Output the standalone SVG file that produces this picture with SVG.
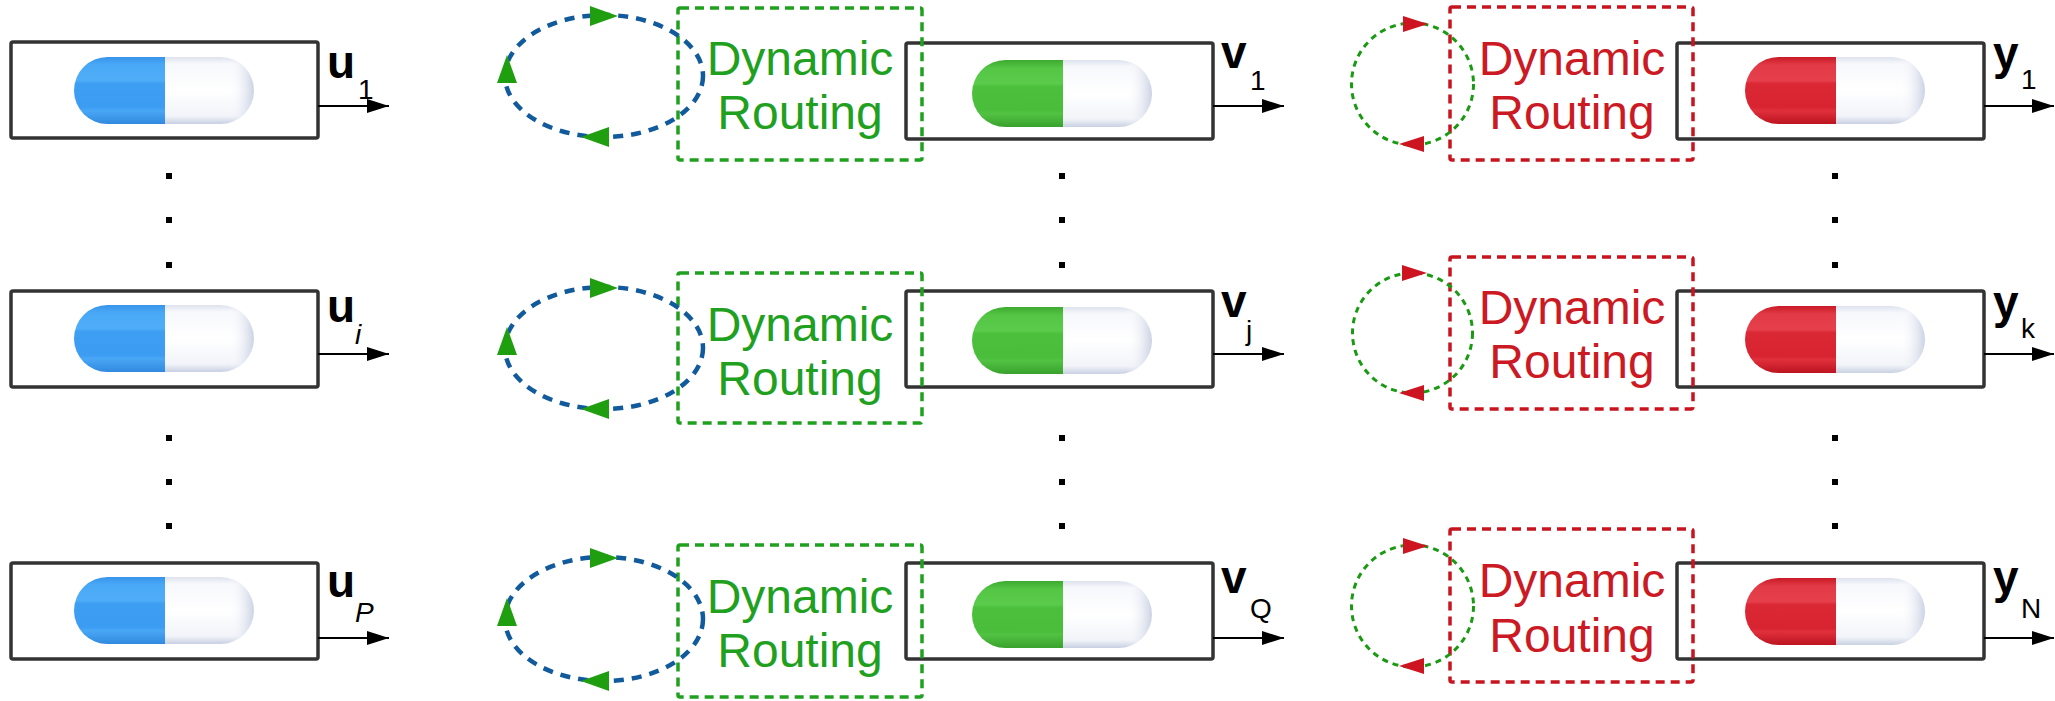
<svg xmlns="http://www.w3.org/2000/svg" xmlns:xlink="http://www.w3.org/1999/xlink" width="2055" height="701" viewBox="0 0 2055 701">
  <defs>
    <style>
      .box { fill: #ffffff; stroke: #333333; stroke-width: 3.5; }
      .dot { fill: #000000; }
      .var { font-family: "Liberation Sans", Arial, sans-serif; font-weight: bold; font-size: 46px; fill: #000000; }
      .sub { font-family: "Liberation Sans", Arial, sans-serif; font-size: 28px; fill: #000000; }
      .subi { font-family: "Liberation Sans", Arial, sans-serif; font-size: 28px; font-style: italic; fill: #000000; }
      .out { stroke: #000000; stroke-width: 1.8; fill: none; marker-end: url(#arrowOut); }
      .rtG { fill: none; stroke: #1fa01f; stroke-width: 3.5; stroke-dasharray: 9 6; }
      .rtR { fill: none; stroke: #c8141f; stroke-width: 3.5; stroke-dasharray: 9 6; }
      .lblG { font-family: "Liberation Sans", Arial, sans-serif; font-size: 48px; fill: #1fa01f; text-anchor: middle; }
      .lblR { font-family: "Liberation Sans", Arial, sans-serif; font-size: 48px; fill: #cc1a24; text-anchor: middle; }
      .loopB { fill: none; stroke: #115a9c; stroke-width: 4.5; stroke-dasharray: 10 8; }
      .loopG { fill: none; stroke: #1a9a12; stroke-width: 3; stroke-dasharray: 6 5; }
      .headG { fill: #1f9f0f; }
      .headR { fill: #cc1520; }
    </style>
    <marker id="arrowOut" markerUnits="userSpaceOnUse" markerWidth="24" markerHeight="16" refX="22" refY="7" orient="auto">
      <path d="M0,0 L22,7 L0,14 z" fill="#000000"/>
    </marker>

    <!-- capsule shading -->
    <linearGradient id="gBlue" x1="0" y1="0" x2="0" y2="1">
      <stop offset="0" stop-color="#3894ea"/>
      <stop offset="0.12" stop-color="#4aa9f6"/>
      <stop offset="0.35" stop-color="#4fadf8"/>
      <stop offset="0.4" stop-color="#3d9ef2"/>
      <stop offset="0.75" stop-color="#3b9cf2"/>
      <stop offset="0.8" stop-color="#4aa7f5"/>
      <stop offset="1" stop-color="#3089de"/>
    </linearGradient>
    <linearGradient id="gGreen" x1="0" y1="0" x2="0" y2="1">
      <stop offset="0" stop-color="#3caa2e"/>
      <stop offset="0.12" stop-color="#55c546"/>
      <stop offset="0.35" stop-color="#5acb4b"/>
      <stop offset="0.4" stop-color="#4cc03d"/>
      <stop offset="0.75" stop-color="#4abe3b"/>
      <stop offset="0.8" stop-color="#52c243"/>
      <stop offset="1" stop-color="#38a22c"/>
    </linearGradient>
    <linearGradient id="gRed" x1="0" y1="0" x2="0" y2="1">
      <stop offset="0" stop-color="#c81a26"/>
      <stop offset="0.12" stop-color="#e23a46"/>
      <stop offset="0.35" stop-color="#e5404c"/>
      <stop offset="0.4" stop-color="#da2834"/>
      <stop offset="0.75" stop-color="#d82430"/>
      <stop offset="0.8" stop-color="#e0303c"/>
      <stop offset="1" stop-color="#bc1420"/>
    </linearGradient>
    <linearGradient id="gWhite" x1="0" y1="0" x2="0" y2="1">
      <stop offset="0" stop-color="#dde2ee"/>
      <stop offset="0.1" stop-color="#f7f8fc"/>
      <stop offset="0.5" stop-color="#ffffff"/>
      <stop offset="0.88" stop-color="#f2f4f9"/>
      <stop offset="1" stop-color="#c8d0e2"/>
    </linearGradient>
    <linearGradient id="gWhiteEnd" x1="0" y1="0" x2="1" y2="0">
      <stop offset="0.72" stop-color="#ffffff" stop-opacity="0"/>
      <stop offset="1" stop-color="#b9c3da" stop-opacity="0.75"/>
    </linearGradient>

    <!-- capsule: 180 x 67, colour half on the left -->
    <g id="capBlue">
      <path d="M91,0 H33.5 A33.5,33.5 0 0 0 33.5,67 H91 Z" fill="url(#gBlue)"/>
      <path d="M91,0 H146.5 A33.5,33.5 0 0 1 146.5,67 H91 Z" fill="url(#gWhite)"/>
      <path d="M91,0 H146.5 A33.5,33.5 0 0 1 146.5,67 H91 Z" fill="url(#gWhiteEnd)"/>
    </g>
    <g id="capGreen">
      <path d="M91,0 H33.5 A33.5,33.5 0 0 0 33.5,67 H91 Z" fill="url(#gGreen)"/>
      <path d="M91,0 H146.5 A33.5,33.5 0 0 1 146.5,67 H91 Z" fill="url(#gWhite)"/>
      <path d="M91,0 H146.5 A33.5,33.5 0 0 1 146.5,67 H91 Z" fill="url(#gWhiteEnd)"/>
    </g>
    <g id="capRed">
      <path d="M91,0 H33.5 A33.5,33.5 0 0 0 33.5,67 H91 Z" fill="url(#gRed)"/>
      <path d="M91,0 H146.5 A33.5,33.5 0 0 1 146.5,67 H91 Z" fill="url(#gWhite)"/>
      <path d="M91,0 H146.5 A33.5,33.5 0 0 1 146.5,67 H91 Z" fill="url(#gWhiteEnd)"/>
    </g>

    <!-- loop arrowheads, tip at the origin, pointing along +x -->
    <path id="headBig" d="M0,0 L-28,-10 L-28,10 z"/>
    <path id="headSmall" d="M0,0 L-25,-8 L-25,8 z"/>
  </defs>

  <rect width="2055" height="701" fill="#ffffff"/>

  <!-- input capsules u -->
  <g id="u1">
    <rect class="box" x="11" y="42" width="307" height="96" rx="2"/>
    <use href="#capBlue" x="74" y="57"/>
    <text class="var" x="327" y="78">u</text><text class="sub" x="358" y="99">1</text>
  </g>
  <g id="ui">
    <rect class="box" x="11" y="291" width="307" height="96" rx="2"/>
    <use href="#capBlue" x="74" y="305"/>
    <text class="var" x="327" y="322">u</text><text class="subi" x="355" y="344">i</text>
  </g>
  <g id="uP">
    <rect class="box" x="11" y="563" width="307" height="96" rx="2"/>
    <use href="#capBlue" x="74" y="577"/>
    <text class="var" x="327" y="597">u</text><text class="subi" x="355" y="622">P</text>
  </g>

  <!-- primary capsules v -->
  <g id="v1">
    <rect class="box" x="906" y="43" width="307" height="96" rx="2"/>
    <use href="#capGreen" x="972" y="60"/>
    <text class="var" x="1221" y="68">v</text><text class="sub" x="1250" y="90">1</text>
  </g>
  <g id="vj">
    <rect class="box" x="906" y="291" width="307" height="96" rx="2"/>
    <use href="#capGreen" x="972" y="307"/>
    <text class="var" x="1221" y="317">v</text><text class="sub" x="1246" y="340">j</text>
  </g>
  <g id="vQ">
    <rect class="box" x="906" y="563" width="307" height="96" rx="2"/>
    <use href="#capGreen" x="972" y="581"/>
    <text class="var" x="1221" y="593">v</text><text class="sub" x="1250" y="618">Q</text>
  </g>

  <!-- output capsules y -->
  <g id="y1">
    <rect class="box" x="1677" y="43" width="307" height="96" rx="2"/>
    <use href="#capRed" x="1745" y="57"/>
    <text class="var" x="1993" y="69">y</text><text class="sub" x="2021" y="89">1</text>
  </g>
  <g id="yk">
    <rect class="box" x="1677" y="291" width="307" height="96" rx="2"/>
    <use href="#capRed" x="1745" y="306"/>
    <text class="var" x="1993" y="318">y</text><text class="sub" x="2021" y="338">k</text>
  </g>
  <g id="yN">
    <rect class="box" x="1677" y="563" width="307" height="96" rx="2"/>
    <use href="#capRed" x="1745" y="578"/>
    <text class="var" x="1993" y="593">y</text><text class="sub" x="2021" y="618">N</text>
  </g>

  <!-- vertical ellipsis dots between rows -->
  <g id="ellipsis">
    <rect class="dot" x="166" y="173" width="6" height="6"/>
    <rect class="dot" x="166" y="217" width="6" height="6"/>
    <rect class="dot" x="166" y="262" width="6" height="6"/>
    <rect class="dot" x="166" y="435" width="6" height="6"/>
    <rect class="dot" x="166" y="479" width="6" height="6"/>
    <rect class="dot" x="166" y="523" width="6" height="6"/>
    <rect class="dot" x="1059" y="173" width="6" height="6"/>
    <rect class="dot" x="1059" y="217" width="6" height="6"/>
    <rect class="dot" x="1059" y="262" width="6" height="6"/>
    <rect class="dot" x="1059" y="435" width="6" height="6"/>
    <rect class="dot" x="1059" y="479" width="6" height="6"/>
    <rect class="dot" x="1059" y="523" width="6" height="6"/>
    <rect class="dot" x="1832" y="173" width="6" height="6"/>
    <rect class="dot" x="1832" y="217" width="6" height="6"/>
    <rect class="dot" x="1832" y="262" width="6" height="6"/>
    <rect class="dot" x="1832" y="435" width="6" height="6"/>
    <rect class="dot" x="1832" y="479" width="6" height="6"/>
    <rect class="dot" x="1832" y="523" width="6" height="6"/>
  </g>

  <!-- routing stages between layers -->
  <g id="routing1a">
    <rect class="rtG" x="678" y="8" width="244" height="152" rx="2"/>
    <text class="lblG" x="800" y="75">Dynamic</text>
    <text class="lblG" x="800" y="129">Routing</text>
  </g>
  <g id="routing1b">
    <rect class="rtG" x="678" y="273" width="244" height="150" rx="2"/>
    <text class="lblG" x="800" y="341">Dynamic</text>
    <text class="lblG" x="800" y="395">Routing</text>
  </g>
  <g id="routing1c">
    <rect class="rtG" x="678" y="545" width="244" height="152" rx="2"/>
    <text class="lblG" x="800" y="613">Dynamic</text>
    <text class="lblG" x="800" y="667">Routing</text>
  </g>
  <g id="routing2a">
    <rect class="rtR" x="1450" y="7" width="243" height="153" rx="2"/>
    <text class="lblR" x="1572" y="75">Dynamic</text>
    <text class="lblR" x="1572" y="129">Routing</text>
  </g>
  <g id="routing2b">
    <rect class="rtR" x="1450" y="257" width="243" height="152" rx="2"/>
    <text class="lblR" x="1572" y="324">Dynamic</text>
    <text class="lblR" x="1572" y="378">Routing</text>
  </g>
  <g id="routing2c">
    <rect class="rtR" x="1450" y="529" width="243" height="153" rx="2"/>
    <text class="lblR" x="1572" y="597">Dynamic</text>
    <text class="lblR" x="1572" y="652">Routing</text>
  </g>

  <!-- connectors: capsule outputs and routing iterations -->
  <g id="connectors">
    <line class="out" x1="318" y1="106" x2="389" y2="106"/>
    <line class="out" x1="318" y1="354" x2="389" y2="354"/>
    <line class="out" x1="318" y1="638" x2="389" y2="638"/>
    <line class="out" x1="1213" y1="106" x2="1284" y2="106"/>
    <line class="out" x1="1213" y1="354" x2="1284" y2="354"/>
    <line class="out" x1="1213" y1="638" x2="1284" y2="638"/>
    <line class="out" x1="1984" y1="106" x2="2054" y2="106"/>
    <line class="out" x1="1984" y1="354" x2="2054" y2="354"/>
    <line class="out" x1="1984" y1="638" x2="2054" y2="638"/>

    <!-- iteration loops, first routing stage -->
    <ellipse class="loopB" cx="604" cy="76" rx="99" ry="61"/>
    <use class="headG" href="#headBig" transform="translate(618,16)"/>
    <use class="headG" href="#headBig" transform="translate(507,55) rotate(-90)"/>
    <use class="headG" href="#headBig" transform="translate(581,137) rotate(180)"/>

    <ellipse class="loopB" cx="604" cy="348" rx="99" ry="61"/>
    <use class="headG" href="#headBig" transform="translate(618,288)"/>
    <use class="headG" href="#headBig" transform="translate(507,327) rotate(-90)"/>
    <use class="headG" href="#headBig" transform="translate(581,409) rotate(180)"/>

    <ellipse class="loopB" cx="604" cy="619" rx="99" ry="62"/>
    <use class="headG" href="#headBig" transform="translate(618,558)"/>
    <use class="headG" href="#headBig" transform="translate(507,598) rotate(-90)"/>
    <use class="headG" href="#headBig" transform="translate(581,681) rotate(180)"/>

    <!-- iteration loops, second routing stage -->
    <circle class="loopG" cx="1412.5" cy="84" r="61"/>
    <use class="headR" href="#headSmall" transform="translate(1428,24)"/>
    <use class="headR" href="#headSmall" transform="translate(1399,144) rotate(180)"/>

    <circle class="loopG" cx="1412.5" cy="333" r="60"/>
    <use class="headR" href="#headSmall" transform="translate(1427,273)"/>
    <use class="headR" href="#headSmall" transform="translate(1399,393) rotate(180)"/>

    <circle class="loopG" cx="1412.5" cy="606" r="61"/>
    <use class="headR" href="#headSmall" transform="translate(1428,546)"/>
    <use class="headR" href="#headSmall" transform="translate(1399,666) rotate(180)"/>
  </g>
</svg>
